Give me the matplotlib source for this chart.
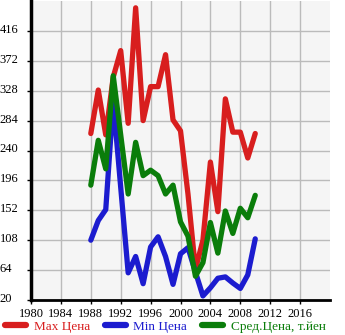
import matplotlib
matplotlib.use("Agg")
import matplotlib.pyplot as plt
import matplotlib.transforms as mtransforms
import numpy as np

# data
years = list(range(1988, 2011))
max_price = [265, 329, 263, 348, 387, 280, 450, 284, 334, 334, 381, 285,
             269, 176, 65, 108, 223, 150, 316, 267, 267, 229, 265]
min_price = [108, 137, 153, 313, 186, 60, 84, 44, 98, 113, 84, 43,
             88, 97, 61, 26, 38, 52, 54, 45, 37, 57, 110]
avg_price = [189, 255, 213, 350, 263, 176, 252, 203, 211, 203, 176, 189,
             135, 114, 55, 75, 134, 89, 151, 118, 155, 141, 174]

series_labels = ["Max Цена", "Min Цена", "Сред.Цена, т.йен"]
series_colors = ["#d81e1e", "#1c1ccf", "#0a7d0a"]
xticks = list(range(1980, 2020, 4))
yticks = list(range(20, 460, 44))

plt.rcParams['font.family'] = ['Liberation Serif', 'DejaVu Serif']

fig = plt.figure(figsize=(3.45, 3.35), dpi=100)
ax = fig.add_axes([31/345, 35/335, 299/345, 299/335])
ax.set_facecolor('#f5f5f5')

#
for vals, lab, col in zip([max_price, min_price, avg_price], series_labels, series_colors):
    ax.plot(years, vals, color=col, lw=3.8, label=lab,
            solid_capstyle='round', solid_joinstyle='round')

ax.set_xlim(1980, 2020)
ax.set_ylim(20, 460)
ax.set_xticks(xticks)
ax.set_yticks(yticks)
ax.grid(True, color='#bbbbbb', lw=1.0)
ax.set_axisbelow(True)

for s in ['top', 'right']:
    ax.spines[s].set_visible(False)
ax.spines['left'].set_linewidth(2.5)
ax.spines['bottom'].set_linewidth(2.0)

ax.tick_params(axis='x', length=3, width=1, pad=3, labelsize=9)
ax.tick_params(axis='y', length=3, width=1, pad=19.5, labelsize=9)

# y labels start at the left edge of the figure, sit a bit above the grid line
off = mtransforms.ScaledTranslation(0, 2.5/100, fig.dpi_scale_trans)
for t in ax.get_yticklabels():
    t.set_horizontalalignment('left')
    t.set_transform(t.get_transform() + off)

leg = fig.legend(loc='lower left', bbox_to_anchor=(-0.008, -0.018), ncol=3,
                 frameon=False, fontsize=9.5, handlelength=1.6,
                 handletextpad=0.55, columnspacing=1.15, borderaxespad=0.2,
                 labelcolor='linecolor')
for h in leg.get_lines():
    h.set_linewidth(4.5)
    h.set_solid_capstyle('round')

fig.savefig('out.png', dpi=100)
